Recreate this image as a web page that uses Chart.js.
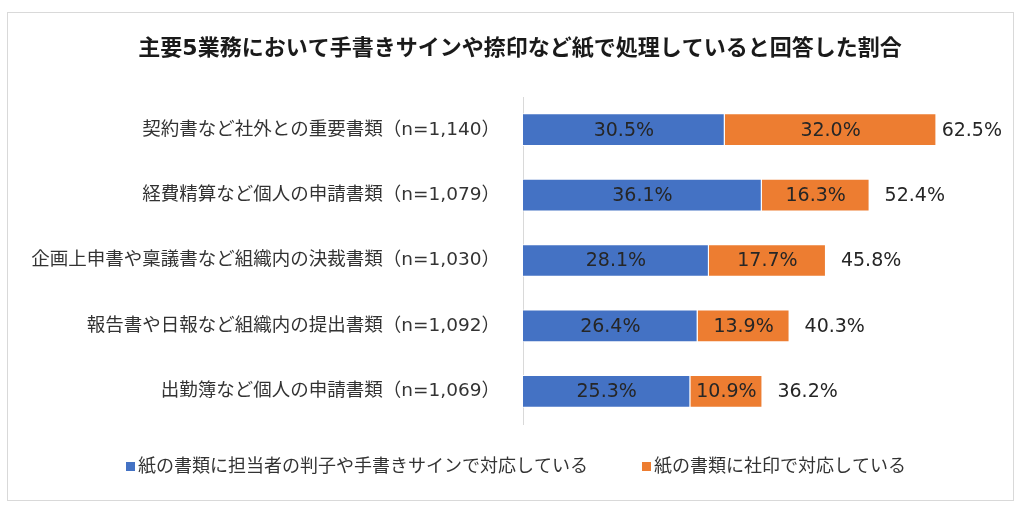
<!DOCTYPE html>
<html>
<head>
<meta charset="utf-8">
<script src="https://cdn.jsdelivr.net/npm/chart.js@4.4.1/dist/chart.umd.min.js"></script>
<style>
  html, body { margin: 0; padding: 0; background: #fff; }
  #wrap { position: relative; width: 1022px; height: 514px; }
  #frame { position: absolute; left: 7px; top: 12px; width: 1007px; height: 489px; border: 1px solid #d9d9d9; box-sizing: border-box; }
  canvas { position: absolute; left: 0; top: 0; }
</style>
</head>
<body>
<div id="wrap">
  <div id="frame"></div>
  <canvas id="chart" width="1022" height="514"></canvas>
</div>
<script>
const chartTitle = '主要5業務において手書きサインや捺印など紙で処理していると回答した割合';
const categories = [
  '契約書など社外との重要書類（n=1,140）',
  '経費精算など個人の申請書類（n=1,079）',
  '企画上申書や稟議書など組織内の決裁書類（n=1,030）',
  '報告書や日報など組織内の提出書類（n=1,092）',
  '出勤簿など個人の申請書類（n=1,069）'
];
const seriesNames = [
  '紙の書類に担当者の判子や手書きサインで対応している',
  '紙の書類に社印で対応している'
];
const seriesColors = ['#4472C4', '#ED7D31'];
const stampValues = [30.5, 36.1, 28.1, 26.4, 25.3];
const sealValues = [32.0, 16.3, 17.7, 13.9, 10.9];
const totalValues = [62.5, 52.4, 45.8, 40.3, 36.2];

const FONT = '"DejaVu Sans", "Noto Sans CJK JP", sans-serif';

// values inside the bars and totals at the right end
const labelPlugin = {
  id: 'barLabels',
  afterDatasetsDraw(chart) {
    const ctx = chart.ctx;
    ctx.save();
    ctx.font = '19px ' + FONT;
    ctx.fillStyle = '#262626';
    ctx.textBaseline = 'middle';
    ctx.textAlign = 'center';
    chart.data.datasets.forEach((ds, i) => {
      chart.getDatasetMeta(i).data.forEach((bar, j) => {
        ctx.fillText(ds.data[j].toFixed(1) + '%', (bar.x + bar.base) / 2, bar.y + 1);
      });
    });
    ctx.textAlign = 'left';
    const xs = chart.scales.x;
    const last = chart.getDatasetMeta(1).data;
    totalValues.forEach((t, j) => {
      const txt = t.toFixed(1) + '%';
      const w = ctx.measureText(txt).width;
      const x = Math.min(xs.getPixelForValue(t) + 15, 1002 - w);
      ctx.fillText(txt, x, last[j].y + 1);
    });
    ctx.restore();
  }
};

// title and legend drawn by hand (the title sits a bit right of centre)
const textPlugin = {
  id: 'titleLegend',
  afterDraw(chart) {
    const ctx = chart.ctx;
    ctx.save();
    ctx.textBaseline = 'middle';
    ctx.textAlign = 'center';
    ctx.fillStyle = '#1a1a1a';
    ctx.font = 'bold 22px ' + FONT;
    ctx.fillText(chartTitle, 520, 49);

    const xs = [126, 642];
    const y = 467;
    ctx.font = '18px ' + FONT;
    ctx.textAlign = 'left';
    seriesNames.forEach((name, i) => {
      ctx.fillStyle = seriesColors[i];
      ctx.fillRect(xs[i], y - 5, 9, 9);
      ctx.fillStyle = '#333333';
      ctx.fillText(name, xs[i] + 12, y);
    });
    ctx.restore();
  }
};

new Chart(document.getElementById('chart'), {
  type: 'bar',
  data: {
    labels: categories,
    datasets: [
      {
        label: seriesNames[0],
        data: stampValues,
        backgroundColor: seriesColors[0],
        borderColor: '#ffffff',
        borderWidth: 1
      },
      {
        label: seriesNames[1],
        data: sealValues,
        backgroundColor: seriesColors[1],
        borderColor: '#ffffff',
        borderWidth: 1
      }
    ]
  },
  options: {
    indexAxis: 'y',
    responsive: false,
    animation: false,
    layout: { padding: { left: 0, right: 36, top: 97, bottom: 90 } },
    datasets: { bar: { barPercentage: 0.5, categoryPercentage: 1.0 } },
    scales: {
      x: {
        stacked: true,
        min: 0,
        max: 70,
        display: false
      },
      y: {
        stacked: true,
        grid: { display: false },
        border: { display: true, color: '#d9d9d9', width: 1 },
        ticks: {
          padding: 15,
          color: '#333333',
          font: { family: FONT, size: 18.5 }
        },
        afterFit(scale) { scale.width = 523; }
      }
    },
    plugins: {
      title: { display: false },
      legend: { display: false },
      tooltip: { enabled: false }
    }
  },
  plugins: [labelPlugin, textPlugin]
});
</script>
</body>
</html>
